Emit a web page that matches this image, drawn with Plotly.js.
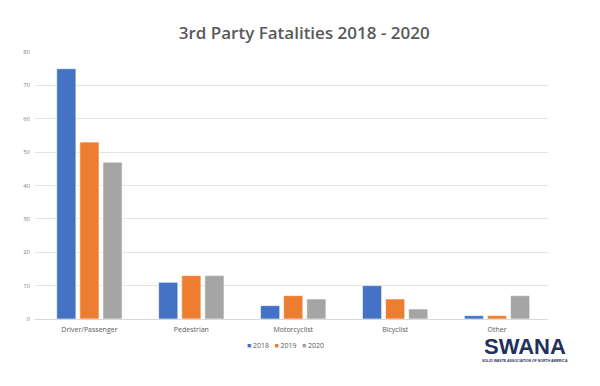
<!DOCTYPE html>
<html><head><meta charset="utf-8">
<script src="https://cdn.plot.ly/plotly-3.0.1.min.js"></script>
<style>html,body{margin:0;padding:0;background:#fff}#c{width:600px;height:386px}</style>
</head><body><div id="c"></div>
<script>
const categories = ["Driver/Passenger", "Pedestrian", "Motorcyclist", "Bicyclist", "Other"];
const years = ["2018", "2019", "2020"];
const values2018 = [75, 11, 4, 10, 1];
const values2019 = [53, 13, 7, 6, 1];
const values2020 = [47, 13, 6, 3, 7];
const yTicks = [0, 10, 20, 30, 40, 50, 60, 70, 80];
const colors = ["#4472C4", "#ED7D31", "#A5A5A5"];
const series = [values2018, values2019, values2020];

const traces = series.map((v, i) => ({
  type: "bar", name: years[i], x: categories, y: v, showlegend: false,
  marker: {color: colors[i], line: {color: "#ffffff", width: 0.6}}
}));

const legendText = years.map((y, i) =>
  `<span style="color:${colors[i]}">■</span> ${y}`).join("&nbsp;&nbsp;&nbsp;");

const layout = {
  width: 600, height: 386,
  margin: {l: 35, r: 51.5, t: 52, b: 66.5},
  paper_bgcolor: "#fff", plot_bgcolor: "#fff",
  font: {family: "Open Sans, sans-serif", color: "#595959", size: 7},
  title: {text: "3rd Party Fatalities 2018 - 2020", x: 0.507, xanchor: "center", y: 0.915, yanchor: "middle",
          font: {family: "Open Sans, sans-serif", size: 17, color: "#595959", weight: 600}},
  barmode: "group", bargap: 0.32, bargroupgap: 0.17,
  xaxis: {range: [-0.534, 4.5], showgrid: false, showline: true, linecolor: "#D9D9D9", linewidth: 1,
          ticks: "", tickfont: {size: 7, color: "#595959"}, ticklabelstandoff: 4, fixedrange: true},
  yaxis: {range: [0, 80], tickvals: yTicks, showgrid: true, gridcolor: "#E4E4E4", gridwidth: 1,
          zeroline: false, showline: false, ticks: "", tickfont: {size: 6, color: "#808080"}, ticklabelstandoff: 4},
  showlegend: false,
  annotations: [
    {text: legendText, xref: "paper", yref: "paper", x: 0.489, y: -0.1, xanchor: "center", yanchor: "middle",
     showarrow: false, font: {family: "Open Sans, sans-serif", size: 7, color: "#595959"}},
    {text: "<b>SWANA</b>", xref: "paper", yref: "paper", x: 0.955, y: -0.103, xanchor: "center", yanchor: "middle",
     showarrow: false, font: {family: "Liberation Sans, Arial, sans-serif", size: 22, color: "#1F2F5E"}},
    {text: "<b>SOLID WASTE ASSOCIATION OF NORTH AMERICA</b>", xref: "paper", yref: "paper", x: 0.955, y: -0.158,
     xanchor: "center", yanchor: "middle", showarrow: false,
     font: {family: "Liberation Sans, Arial, sans-serif", size: 3.5, color: "#1F2F5E"}}
  ]
};
Plotly.newPlot("c", traces, layout, {displayModeBar: false, staticPlot: true});
</script></body></html>
